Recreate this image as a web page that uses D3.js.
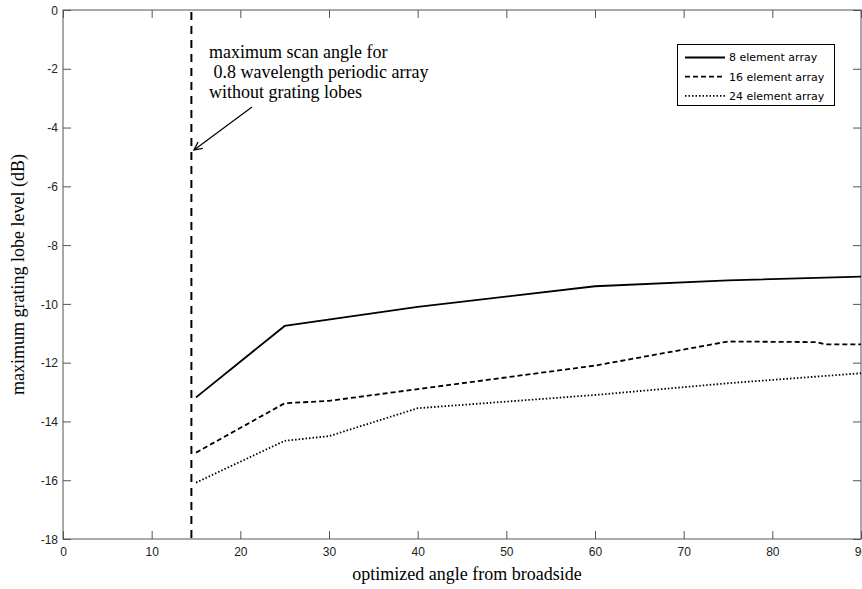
<!DOCTYPE html>
<html>
<head>
<meta charset="utf-8">
<script src="https://cdn.jsdelivr.net/npm/d3@7"></script>
<style>
  html, body { margin: 0; padding: 0; background: #fff; }
  svg { display: block; }
</style>
</head>
<body>
<svg id="chart" width="862" height="589"></svg>
<script>
// ---- data ----
const angles8  = [15, 25, 40, 60, 75, 90];
const values8  = [-13.18, -10.75, -10.1, -9.4, -9.2, -9.07];
const angles16 = [15, 25, 30, 40, 60, 75, 85, 86, 90];
const values16 = [-15.06, -13.38, -13.3, -12.9, -12.1, -11.28, -11.3, -11.38, -11.38];
const angles24 = [15, 25, 30, 40, 60, 75, 90];
const values24 = [-16.08, -14.66, -14.5, -13.55, -13.1, -12.7, -12.36];
const seriesNames = ["8 element array", "16 element array", "24 element array"];
const xTicks = [0, 10, 20, 30, 40, 50, 60, 70, 80, 90];
const yTicks = [0, -2, -4, -6, -8, -10, -12, -14, -16, -18];
const scanAngle = 14.48;
const annotationLines = ["maximum scan angle for", " 0.8 wavelength periodic array", "without grating lobes"];
const xLabel = "optimized angle from broadside";
const yLabel = "maximum grating lobe level (dB)";

// ---- layout ----
const svg = d3.select("#chart");
const L = 63, R = 861, T = 10, B = 539;
const x = d3.scaleLinear().domain([0, 90]).range([L, R]);
const y = d3.scaleLinear().domain([-18, 0]).range([B, T]);
const axisColor = "#555";
const tickFont = "Arial, 'Liberation Sans', sans-serif";
const legendFont = "'DejaVu Sans', sans-serif";
const serif = "'Liberation Serif', 'Times New Roman', serif";
const fmt = d => String(d);

// frame
svg.append("rect").attr("x", L).attr("y", T).attr("width", R - L).attr("height", B - T)
  .attr("fill", "none").attr("stroke", axisColor).attr("stroke-width", 1);

const tl = 8;
const gx = svg.append("g").attr("transform", `translate(0,${B})`)
  .call(d3.axisBottom(x).tickValues(xTicks).tickSize(-tl).tickPadding(8).tickFormat(fmt));
const gxt = svg.append("g").attr("transform", `translate(0,${T})`)
  .call(d3.axisTop(x).tickValues(xTicks).tickSize(-tl).tickFormat(""));
const gy = svg.append("g").attr("transform", `translate(${L},0)`)
  .call(d3.axisLeft(y).tickValues(yTicks).tickSize(-tl).tickPadding(5).tickFormat(fmt));
const gyr = svg.append("g").attr("transform", `translate(${R},0)`)
  .call(d3.axisRight(y).tickValues(yTicks).tickSize(-tl).tickFormat(""));

[gx, gxt, gy, gyr].forEach(g => {
  g.select(".domain").remove();
  g.selectAll(".tick line").attr("stroke", axisColor);
  g.selectAll(".tick text").attr("fill", "#222").style("font-family", tickFont).style("font-size", "12px");
});
gy.selectAll(".tick text").attr("dy", "0.35em");

// axis labels
svg.append("text").attr("x", 467).attr("y", 580).attr("text-anchor", "middle")
  .style("font-family", serif).style("font-size", "18px").attr("fill", "#000").text(xLabel);
svg.append("text").attr("transform", `translate(24,${(T + B) / 2}) rotate(-90)`).attr("text-anchor", "middle")
  .style("font-family", serif).style("font-size", "18px").attr("fill", "#000").text(yLabel);

// vertical scan-angle line
svg.append("line").attr("x1", x(scanAngle)).attr("x2", x(scanAngle)).attr("y1", y(0) + 2).attr("y2", y(-18))
  .attr("stroke", "#000").attr("stroke-width", 2).attr("stroke-dasharray", "8,6");

// series
const line = d3.line().x(d => x(d[0])).y(d => y(d[1]));
const series = [
  { a: angles8, v: values8, dash: null },
  { a: angles16, v: values16, dash: "5,3" },
  { a: angles24, v: values24, dash: "1.5,2" }
];
series.forEach(s => {
  const pts = s.a.map((a, i) => [a, s.v[i]]);
  const p = svg.append("path").attr("d", line(pts)).attr("fill", "none")
    .attr("stroke", "#000").attr("stroke-width", 1.8);
  if (s.dash) p.attr("stroke-dasharray", s.dash);
});

// annotation
const ann = svg.append("text").style("font-family", serif).style("font-size", "18px").attr("fill", "#000")
  .attr("xml:space", "preserve");
annotationLines.forEach((t, i) => {
  ann.append("tspan").attr("x", 209).attr("y", 58 + i * 20).text(t);
});
svg.append("defs").append("marker").attr("id", "arrow").attr("viewBox", "0 0 10 10")
  .attr("refX", 9).attr("refY", 5).attr("markerWidth", 10).attr("markerHeight", 10)
  .attr("orient", "auto").attr("markerUnits", "userSpaceOnUse")
  .append("path").attr("d", "M1,1 L9,5 L1,9").attr("fill", "none").attr("stroke", "#000").attr("stroke-width", 1.3);
svg.append("line").attr("x1", 252).attr("y1", 107).attr("x2", 194).attr("y2", 150)
  .attr("stroke", "#000").attr("stroke-width", 1.2).attr("marker-end", "url(#arrow)");

// legend
const lg = svg.append("g");
lg.append("rect").attr("x", 677.5).attr("y", 44.5).attr("width", 157).attr("height", 61)
  .attr("fill", "#fff").attr("stroke", "#000").attr("stroke-width", 1);
const dashes = [null, "5,3", "1.5,2"];
seriesNames.forEach((n, i) => {
  const yy = 57.5 + i * 19.2;
  const l = lg.append("line").attr("x1", 685).attr("x2", 725).attr("y1", yy).attr("y2", yy)
    .attr("stroke", "#000").attr("stroke-width", 1.8);
  if (dashes[i]) l.attr("stroke-dasharray", dashes[i]);
  lg.append("text").attr("x", 729).attr("y", yy).attr("dy", "0.35em")
    .style("font-family", legendFont).style("font-size", "11px").attr("fill", "#000").text(n);
});
</script>
</body>
</html>
